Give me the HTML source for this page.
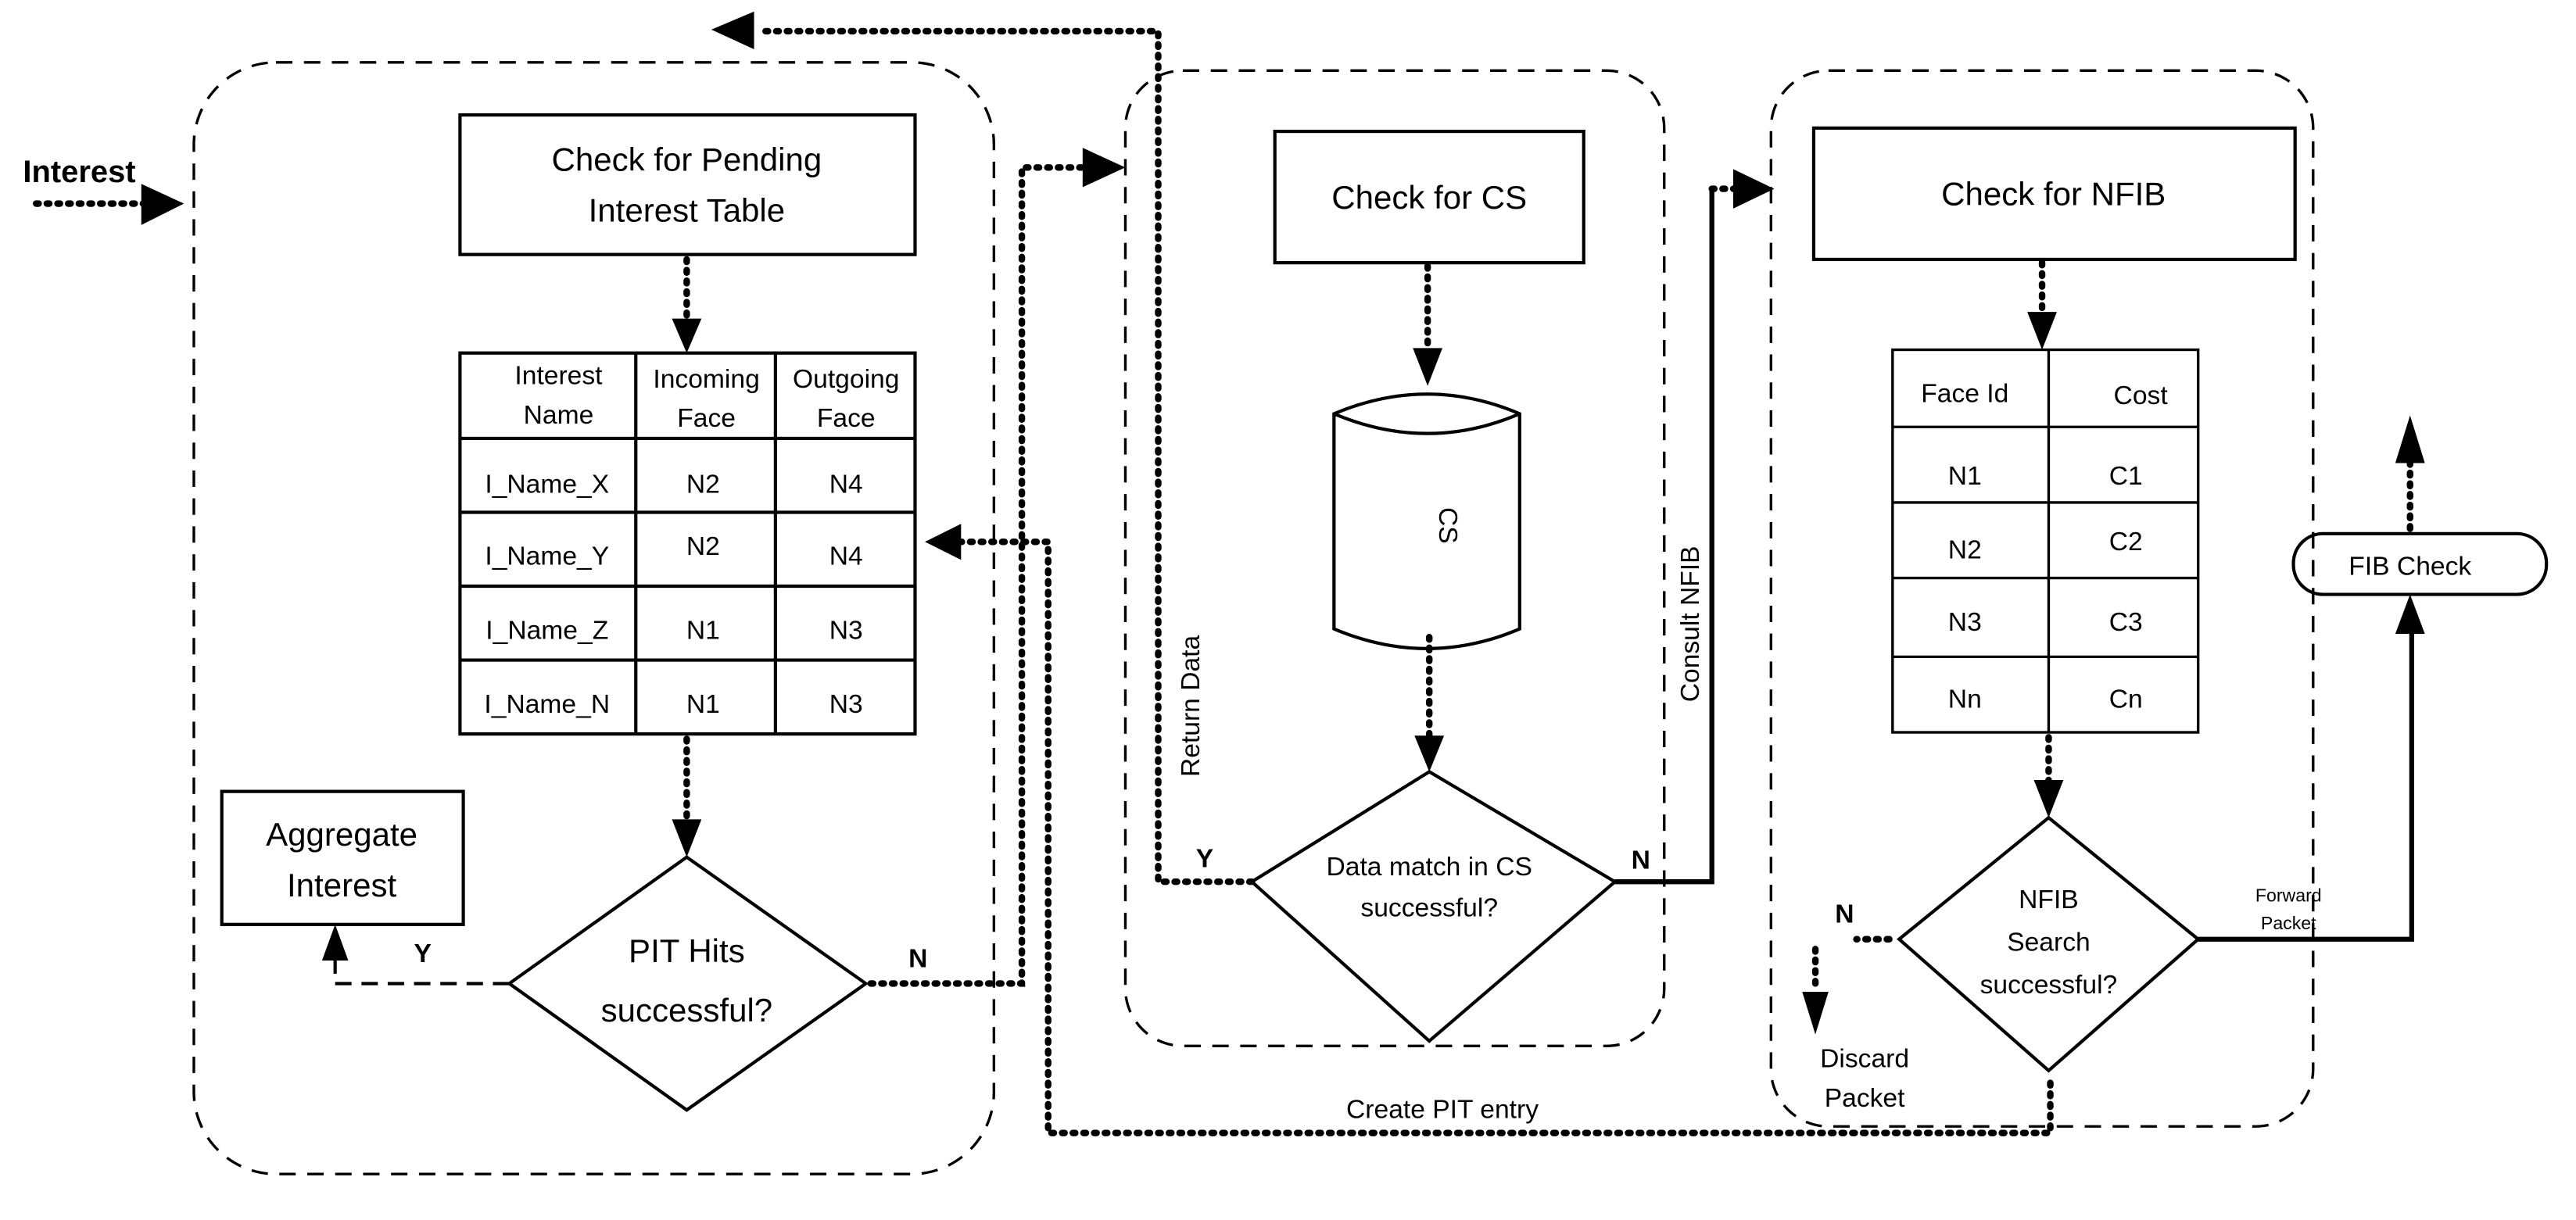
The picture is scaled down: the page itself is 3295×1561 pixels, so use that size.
<!DOCTYPE html>
<html><head><meta charset="utf-8"><style>
html,body{margin:0;padding:0;background:#fff;}
svg{display:block;}
text{font-family:"Liberation Sans Narrow","Liberation Sans",sans-serif;fill:#000;}
</style></head><body>
<svg width="3295" height="1561" viewBox="0 0 1568 743" preserveAspectRatio="none" xmlns="http://www.w3.org/2000/svg">
<g fill="none" stroke="#000">
<rect x="118" y="38" width="487" height="677" rx="50" stroke-width="1.6" stroke-dasharray="10,7"/>
<rect x="685" y="43" width="328" height="594" rx="35" stroke-width="1.6" stroke-dasharray="10,7"/>
<rect x="1078" y="43" width="330" height="643" rx="35" stroke-width="1.6" stroke-dasharray="10,7"/>

<rect x="280" y="70" width="277" height="85" stroke-width="2"/>
<rect x="135" y="482" width="147" height="81" stroke-width="2"/>
<rect x="776" y="80" width="188" height="80" stroke-width="2"/>
<rect x="1104" y="78" width="293" height="80" stroke-width="2"/>
<rect x="1396" y="325" width="154" height="37" rx="18" stroke-width="2"/>

<rect x="280" y="215" width="277" height="232" stroke-width="2"/>
<path d="M387,215V447M472,215V447M280,267H557M280,312H557M280,357H557M280,402H557" stroke-width="2"/>

<rect x="1152" y="213" width="186" height="233" stroke-width="1.6"/>
<path d="M1247,213V446M1152,260H1338M1152,306H1338M1152,352H1338M1152,400H1338" stroke-width="1.6"/>

<path d="M812,252 Q869,228 925,252 V383 Q869,407 812,383 Z M812,252 Q869,276 925,252" stroke-width="2"/>

<path d="M418,522 L527,599 L418,676 L310,599 Z" stroke-width="2"/>
<path d="M870,470 L983,537 L870,634 L762,537 Z" stroke-width="2"/>
<path d="M1247,498 L1338,572 L1247,652 L1156,572 Z" stroke-width="2"/>

<g stroke-width="4" stroke-dasharray="1.5,5" stroke-linecap="round">
<path d="M22,124 H92"/>
<path d="M418,158 V196"/>
<path d="M418,450 V500"/>
<path d="M869,162 V213"/>
<path d="M870,388 V448"/>
<path d="M1243,160 V192"/>
<path d="M1247,449 V476"/>
<path d="M1467,322 V282"/>
<path d="M530,599 H622 V102 H660"/>
<path d="M584,330 H638 V690 H1248 V655"/>
<path d="M762,537 H705 V19 H462"/>
<path d="M1042,115 H1058"/>
<path d="M1150,572 H1130"/>
<path d="M1105,578 V604"/>
</g>
<g fill="#000" stroke="none">
<path d="M86,112 L112,124 L86,137 Z"/>
<path d="M409,194 L427,194 L418,215 Z"/>
<path d="M409,499 L427,499 L418,522 Z"/>
<path d="M860,212 L878,212 L869,235 Z"/>
<path d="M861,448 L879,448 L870,470 Z"/>
<path d="M1234,190 L1252,190 L1243,213 Z"/>
<path d="M1238,475 L1256,475 L1247,498 Z"/>
<path d="M1458,282 L1476,282 L1467,253 Z"/>
<path d="M659,90 L685,102 L659,114 Z"/>
<path d="M1055,103 L1080,115 L1055,127 Z"/>
<path d="M585,319 L563,330 L585,341 Z"/>
<path d="M459,7 L433,18 L459,30 Z"/>
<path d="M1097,604 L1113,604 L1105,630 Z"/>
<path d="M1458,386 L1476,386 L1467,362 Z"/>
<path d="M196,585 L212,585 L204,563 Z"/>
</g>
<path d="M983,537 H1042 V115" stroke-width="3"/>
<path d="M1338,572 H1468 V380" stroke-width="3"/>
<path d="M310,599 H204 V585" stroke-width="2" stroke-dasharray="10,6"/>
</g>

<g font-size="20" text-anchor="middle">
<text x="418" y="104">Check for Pending</text>
<text x="418" y="135">Interest Table</text>
<text x="208" y="515">Aggregate</text>
<text x="208" y="546">Interest</text>
<text x="870" y="127">Check for CS</text>
<text x="1250" y="125">Check for NFIB</text>
<text x="418" y="586">PIT Hits</text>
<text x="418" y="622">successful?</text>
</g>
<g font-size="16" text-anchor="middle">
<text x="340" y="234">Interest</text>
<text x="340" y="258">Name</text>
<text x="430" y="236">Incoming</text>
<text x="430" y="260">Face</text>
<text x="515" y="236">Outgoing</text>
<text x="515" y="260">Face</text>
<text x="333" y="300">I_Name_X</text><text x="428" y="300">N2</text><text x="515" y="300">N4</text>
<text x="333" y="344">I_Name_Y</text><text x="428" y="338">N2</text><text x="515" y="344">N4</text>
<text x="333" y="389">I_Name_Z</text><text x="428" y="389">N1</text><text x="515" y="389">N3</text>
<text x="333" y="434">I_Name_N</text><text x="428" y="434">N1</text><text x="515" y="434">N3</text>
<text x="1196" y="245">Face Id</text><text x="1303" y="246">Cost</text>
<text x="1196" y="295">N1</text><text x="1294" y="295">C1</text>
<text x="1196" y="340">N2</text><text x="1294" y="335">C2</text>
<text x="1196" y="384">N3</text><text x="1294" y="384">C3</text>
<text x="1196" y="431">Nn</text><text x="1294" y="431">Cn</text>
<text x="870" y="533">Data match in CS</text>
<text x="870" y="558">successful?</text>
<text x="1247" y="553">NFIB</text>
<text x="1247" y="579">Search</text>
<text x="1247" y="605">successful?</text>
<text x="1135" y="650">Discard</text>
<text x="1135" y="674">Packet</text>
<text x="878" y="681">Create PIT entry</text>
<text x="1467" y="350">FIB Check</text>
<text transform="translate(876,320) rotate(90)">CS</text>
<text transform="translate(730,430) rotate(-90)">Return Data</text>
<text transform="translate(1034,380) rotate(-90)">Consult NFIB</text>
</g>
<g font-size="11" text-anchor="middle">
<text x="1393" y="549">Forward</text>
<text x="1393" y="566">Packet</text>
</g>
<g font-size="16" font-weight="bold" font-family="Liberation Sans,sans-serif">
<text x="14" y="111" font-size="19">Interest</text>
<text x="252" y="586">Y</text>
<text x="553" y="589">N</text>
<text x="728" y="528">Y</text>
<text x="993" y="529">N</text>
<text x="1117" y="562">N</text>
</g>
</svg>
</body></html>
